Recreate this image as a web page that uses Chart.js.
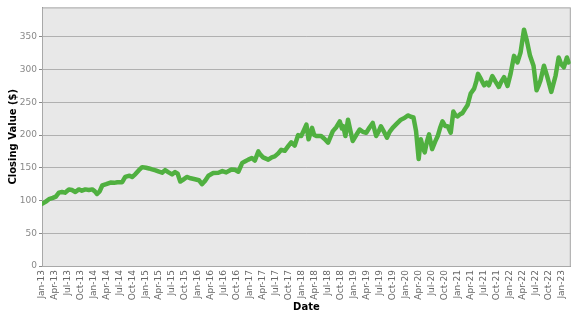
<!DOCTYPE html>
<html>
<head>
<meta charset="utf-8">
<script src="https://cdn.jsdelivr.net/npm/chart.js@4.4.1/dist/chart.umd.min.js"></script>
<style>
  html, body { margin: 0; padding: 0; background: #ffffff; }
  #wrap { width: 577px; height: 315px; }
</style>
</head>
<body>
<div id="wrap"><canvas id="c" width="577" height="315"></canvas></div>
<script>
// Months since Jan 2013 (x positions of readings)
const monthsSinceJan13 = [
  0, 0.8, 1.6, 2.5, 3.2, 3.9, 4.6, 5.3, 6.2, 6.9, 7.7, 8.5, 9.2, 10, 10.8, 11.6,
  12.2, 12.7, 13.3, 13.9, 14.8, 15.8, 16.6, 17.4, 18.5, 19.2, 20.2, 20.8, 21.5, 22.3, 23.1,
  24, 24.7, 25.4, 26.2, 27, 27.7, 28.4, 29.2, 30, 30.7, 31.3, 31.9, 32.6, 33.4, 34.3, 35.3,
  36.2, 36.9, 37.6, 38.4, 39.5, 40.7, 41.6, 42.5, 43.7, 44.5, 45.3, 46.2, 46.9, 47.6,
  48.4, 49.1, 49.9, 50.4, 51, 52.2, 53, 53.7, 54.5, 55.2, 56, 56.8, 57.5, 58.3, 59.1, 59.8,
  60.4, 61, 61.5, 62.3, 62.8, 63.3, 64.4, 65.2, 66, 67.1, 67.9, 68.7, 69.2, 69.5, 70, 70.6, 71.2, 71.7,
  72.5, 73.3, 74, 74.8, 75.6, 76.3, 77.1, 77.7, 78.2, 78.9, 79.6, 80.2, 80.9, 81.8, 82.8, 83.6,
  84.4, 85.1, 85.7, 86.3, 86.9, 87.4, 87.9, 88.3, 88.8, 89.3, 90, 90.7, 91.3, 91.9, 92.4, 93, 93.6, 94.3, 94.9, 95.4, 95.9,
  96.5, 97, 97.6, 98.2, 98.9, 99.7, 100.2, 100.6, 101.3, 102, 102.6, 103.1, 103.9, 104.6, 105.4, 106, 106.6, 107.4,
  108.1, 108.9, 109.7, 110.4, 111.2, 111.8, 112.6, 113.4, 114.1, 114.6, 115, 115.8, 116.6, 117.5, 118.5, 119.2, 119.8,
  120.4, 121.1, 121.5
];
// Closing value ($)
const closingValue = [
  95, 98, 102, 104, 106, 112, 113, 112, 117, 116, 113, 117, 115, 117, 116, 117,
  114, 110, 114, 123, 125, 127.5, 127, 128, 128, 136, 138, 136, 140, 146, 151,
  150, 149, 147.5, 146, 144, 142.5, 146.5, 143, 140, 143.5, 141, 129, 132, 136, 134, 132.5,
  131, 125, 130, 138, 142, 142.5, 145, 143, 147.5, 147, 144, 157.5, 160, 162.5,
  165, 161, 175, 170, 166, 162.5, 166, 167.5, 172, 177.5, 176, 183, 189, 184, 200, 198.5,
  207, 216, 193.5, 211, 200, 198.5, 198.5, 194, 188.5, 206, 212, 221, 210, 213.5, 198.5, 223.5, 205, 191,
  200, 208.5, 205, 203.5, 212, 218.5, 198.5, 206, 213.5, 205, 196, 205, 211, 217, 223.5, 226,
  230, 228, 227, 206, 163.5, 193.5, 180, 173.5, 190, 201, 178.5, 190, 198.5, 212, 221, 214, 213.5, 203.5, 236, 230, 228.5,
  232, 233.5, 240, 246, 263.5, 271, 282, 293.5, 285, 276, 280, 276, 290, 282, 273.5, 282, 288.5, 275,
  293.5, 321, 311, 326, 361, 346, 321, 306, 268.5, 276, 283.5, 306, 288.5, 266, 291, 318.5, 308,
  303.5, 318.5, 311
];
const monthNames = ['Jan', 'Feb', 'Mar', 'Apr', 'May', 'Jun', 'Jul', 'Aug', 'Sep', 'Oct', 'Nov', 'Dec'];
const yTickValues = [0, 50, 100, 150, 200, 250, 300, 350];

const points = monthsSinceJan13.map((m, i) => ({ x: m, y: closingValue[i] }));
const FONT = 'DejaVu Sans';

const plotFrame = {
  id: 'plotFrame',
  beforeDraw(chart) {
    const { ctx, chartArea: a } = chart;
    ctx.save();
    ctx.fillStyle = '#e8e8e8';
    ctx.fillRect(a.left, a.top, a.right - a.left, a.bottom - a.top);
    ctx.restore();
  },
  beforeDatasetsDraw(chart) {
    const { ctx, chartArea: a } = chart;
    ctx.save();
    ctx.strokeStyle = '#a8a8a8';
    ctx.lineWidth = 1;
    ctx.strokeRect(a.left + 0.5, a.top + 0.5, a.right - a.left - 1, a.bottom - a.top);
    ctx.restore();
  }
};

new Chart(document.getElementById('c'), {
  type: 'line',
  data: {
    datasets: [{
      data: points,
      borderColor: '#50b040',
      borderWidth: 4.5,
      borderJoinStyle: 'round',
      borderCapStyle: 'round',
      pointRadius: 0,
      tension: 0,
      fill: false
    }]
  },
  options: {
    responsive: false,
    animation: false,
    layout: { padding: { top: 4, right: 4, left: 0, bottom: 0 } },
    plugins: { legend: { display: false }, tooltip: { enabled: false } },
    scales: {
      x: {
        type: 'linear',
        min: 0,
        max: 122,
        afterBuildTicks(axis) {
          const t = [];
          for (let m = 0; m <= 120; m += 3) t.push({ value: m });
          axis.ticks = t;
        },
        afterFit(scale) { scale.height = 49; },
        grid: { display: false, drawTicks: false },
        border: { display: true, color: '#888888', width: 1 },
        ticks: {
          autoSkip: false,
          minRotation: 90,
          maxRotation: 90,
          padding: 4,
          color: '#666666',
          font: { family: FONT, size: 9 },
          callback(v) {
            const yr = 13 + Math.floor(v / 12);
            return monthNames[v % 12] + '-' + yr;
          }
        },
        title: {
          display: true,
          text: 'Date',
          color: '#000000',
          font: { family: FONT, size: 10, weight: 'bold' },
          padding: { top: 0, bottom: 2 }
        }
      },
      y: {
        type: 'linear',
        min: 0,
        max: 395,
        afterBuildTicks(axis) {
          axis.ticks = yTickValues.map(v => ({ value: v }));
        },
        afterFit(scale) { scale.width = 42; },
        grid: { color: '#b0b0b0', lineWidth: 1, drawTicks: true, tickLength: 3, tickColor: '#888888' },
        border: { display: true, color: '#888888', width: 1 },
        ticks: {
          padding: 2,
          color: '#888888',
          font: { family: FONT, size: 9 }
        },
        title: {
          display: true,
          text: 'Closing Value ($)',
          color: '#000000',
          font: { family: FONT, size: 10, weight: 'bold' },
          padding: { top: 7, bottom: 0 }
        }
      }
    }
  },
  plugins: [plotFrame]
});
</script>
</body>
</html>
